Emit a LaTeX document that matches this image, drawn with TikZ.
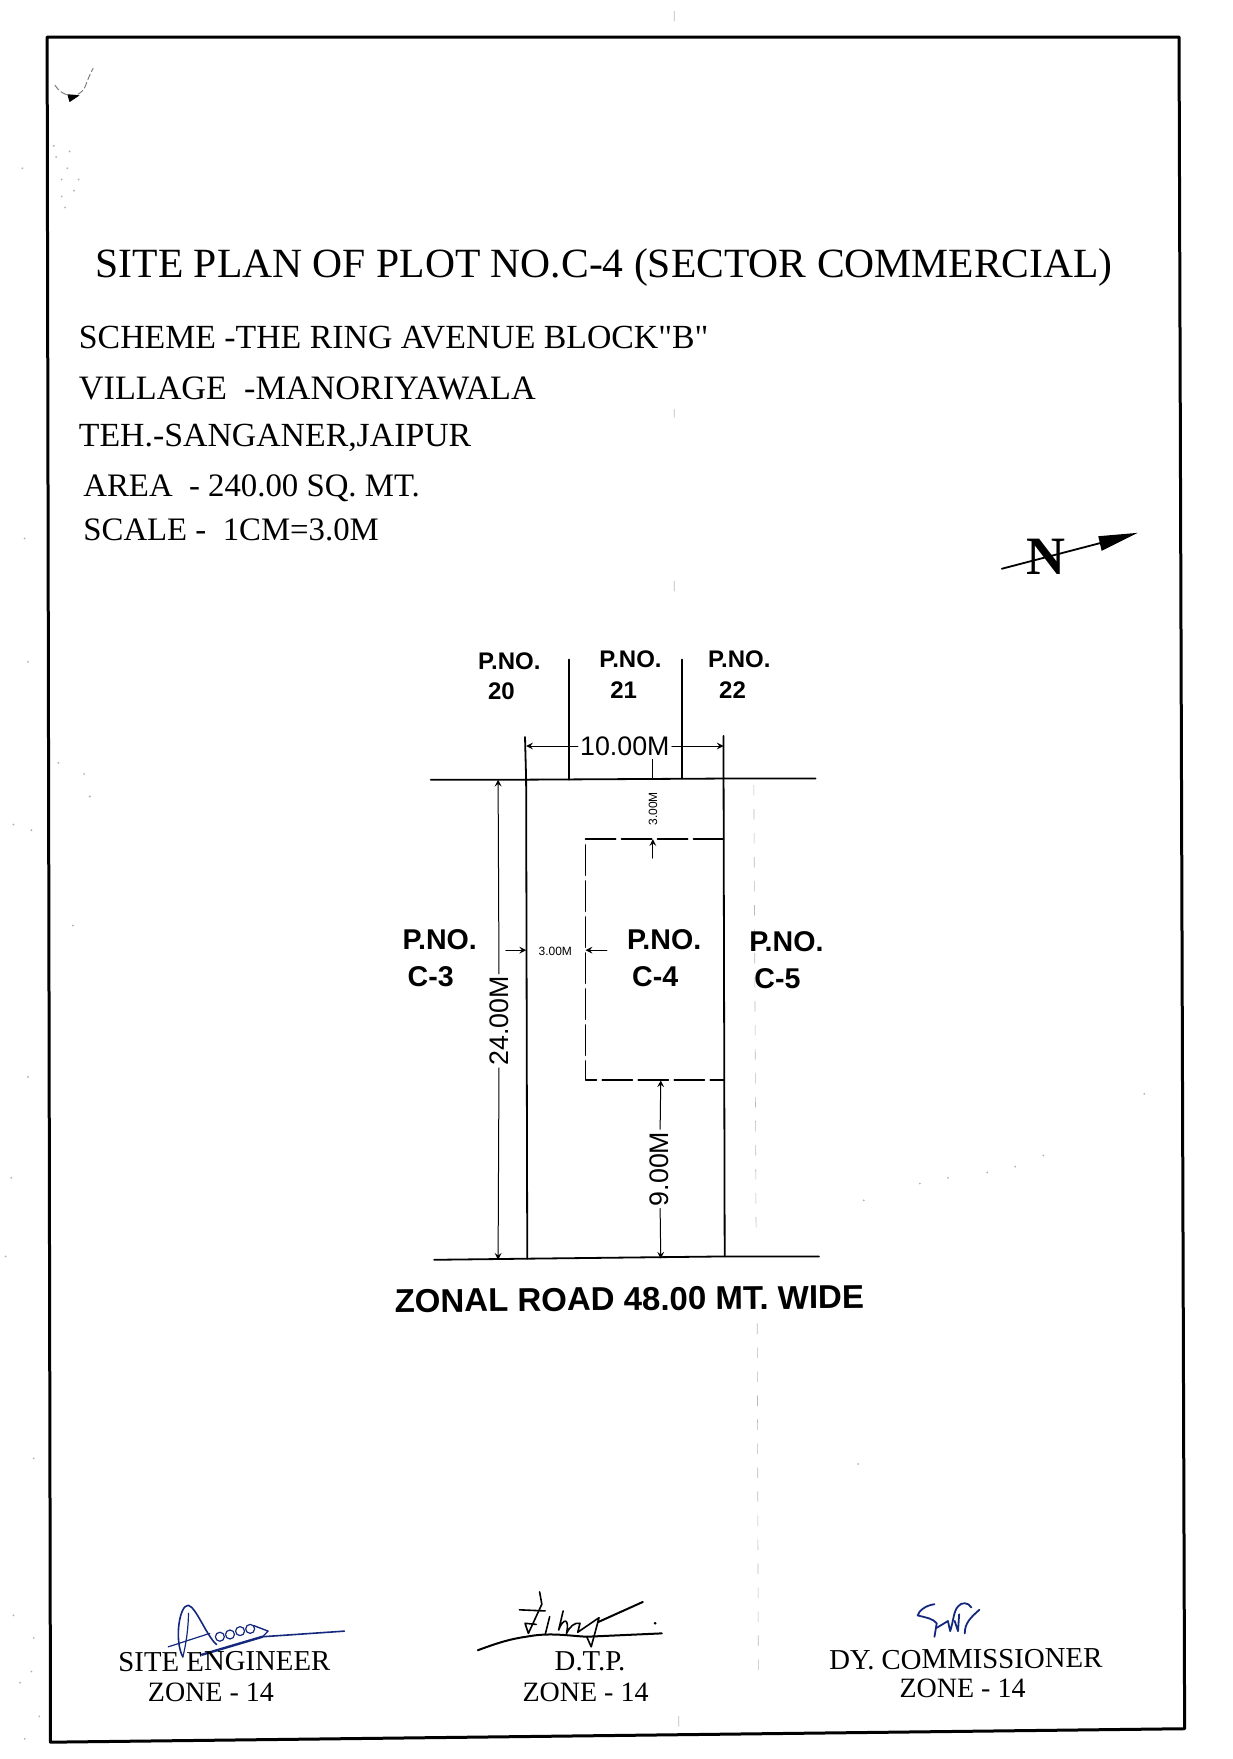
\documentclass[tikz,border=0pt]{standalone}
\usepackage{fontspec}
\setmainfont[Ligatures=TeXOff]{Liberation Serif}
\newfontfamily\plansans{Liberation Sans}
\definecolor{inkblue}{RGB}{20,40,125}
\tikzset{
	heading/.style={anchor=base west,inner sep=0pt,font=\fontsize{16.9}{18}\selectfont},
	smallheading/.style={anchor=base west,inner sep=0pt,font=\fontsize{16.4}{18}\selectfont},
	plotlabel/.style={inner sep=0pt,font=\plansans\bfseries\fontsize{12}{13}\selectfont},
	bigplotlabel/.style={inner sep=0pt,font=\plansans\bfseries\fontsize{14.3}{15}\selectfont},
	dimbig/.style={inner sep=1pt,font=\plansans\fontsize{13.4}{14}\selectfont},
	dimsmall/.style={inner sep=1pt,font=\plansans\fontsize{6}{7}\selectfont},
	signtext/.style={inner sep=0pt,font=\fontsize{14.4}{15}\selectfont},
	zonetext/.style={inner sep=0pt,font=\fontsize{14}{15}\selectfont},
	plotline/.style={line width=.9pt},
	dimline/.style={line width=.5pt},
	scanmark/.style={gray!55,line width=.3pt,dash pattern=on 5pt off 7pt},
}
\begin{document}
\begin{tikzpicture}[x=.561pt,y=-.561pt,line join=round,line cap=round,>=stealth]
	\useasboundingbox (0,0) rectangle (1099,1568);
	\fill[white] (0,0) rectangle (1099,1568);
	% fold marks of the scan
	\draw[scanmark] (601,10)--(601,24) (601,365)--(601,372) (601,518)--(601,530) (672,700)--(674,1100) (675,1180)--(676,1490) (605,1530)--(605,1545);
	\foreach \x/\y in{20/150,48/130,60/150,55/175,70/160,22/480,25/590,12/735,28/740,65/825,25/960,10/1050,5/1120,30/1300,12/1440,28/1490,22/1550,80/710,820/1055,845/1050,880/1045,905/1040,930/1030,770/1070,1020/975,765/1305,50/140,62/135,55/160,66/170,58/185,52/680,75/690,30/1460,18/1500,35/1530}
		\fill[gray!60] (\x,\y)circle(.9);
	% frame
	\draw[line width=1.5pt] (42,33)--(1051,33)--(1056,1541)--(45,1553)--cycle;
	\draw[gray,line width=.5pt,dash pattern=on 3pt off 1.5pt] (49,76) .. controls (55,86) and (70,90) .. (76,77) .. controls (78,72) and (80,66) .. (83,61);
	\fill (62,91)--(71,85)--(60,84)--cycle;
	% heading
	\node[heading,font=\fontsize{20.8}{22}\selectfont] (title) at (85,247) {SITE PLAN OF PLOT NO.C-4 (SECTOR COMMERCIAL)};
	\node[heading] (scheme) at (70,311) {SCHEME -THE RING AVENUE BLOCK"B"};
	\node[heading,font=\fontsize{17.1}{18}\selectfont] (village) at (70,356) {VILLAGE\ \ -MANORIYAWALA};
	\node[heading] (teh) at (70,398) {TEH.-SANGANER,JAIPUR};
	\node[smallheading] (area) at (74,443) {AREA\ \ - 240.00 SQ. MT.};
	\node[smallheading] (scale) at (74,482) {SCALE -\ \ 1CM=3.0M};
	% north
	\node[inner sep=0pt,font=\bfseries\fontsize{27}{28}\selectfont] (north) at (932,496) {N};
	\draw[line width=.9pt] (893,507)--(985,483);
	\fill (1014,475)--(979,478)--(982,491)--cycle;
	% plot
	\coordinate (ptl) at (469,695);
	\coordinate (ptr) at (645,694);
	\coordinate (pbl) at (470,1122);
	\coordinate (pbr) at (646,1120);
	\draw[plotline] (384,695)--(ptl)--(ptr)--(727,694);
	\draw[plotline] (387,1123)--(pbl)--(pbr)--(730,1120);
	\draw[plotline] (468,657)--(ptl)--(pbl);
	\draw[plotline] (645,656)--(ptr)--(pbr);
	\draw[plotline] (507,588)--(507,695);
	\draw[plotline] (608,588)--(608,694);
	\draw[plotline,dash pattern=on 15pt off 3pt] (645,748)--(522,748)--(522,963)--(645,963);
	% dimensions
	\node[dimbig] (dten) at (557,665) {10.00M};
	\draw[dimline,->] (dten)--(469,665);
	\draw[dimline,->] (dten)--(645,665);
	\node[dimbig,rotate=90] (dtwentyfour) at (445,910) {24.00M};
	\draw[dimline,->] (dtwentyfour)--(444,695);
	\draw[dimline,->] (dtwentyfour)--(444,1123);
	\node[dimbig,rotate=90] (dnine) at (588,1042) {9.00M};
	\draw[dimline,->] (dnine)--(589,963);
	\draw[dimline,->] (dnine)--(589,1122);
	\node[dimsmall,rotate=90] (dfront) at (582,721) {3.00M};
	\draw[dimline] (582,677)--(582,694);
	\draw[dimline,->] (582,765)--(582,748);
	\node[dimsmall] (dside) at (495,848) {3.00M};
	\draw[dimline,->] (451,847)--(469,847);
	\draw[dimline,->] (541,847)--(522,847);
	% plot numbers
	\foreach \x/\y/\n/\a/\b in{454/589/ptwenty/447/20,562/588/ptwentyone/556/21,659/588/ptwentytwo/653/22}{
		\node[plotlabel] (\n) at (\x,\y) {P.NO.};
		\node[plotlabel] (\n b) at (\a,\y+27) {\b};
	}
	\foreach \x/\y/\n/\a/\b in{392/838/pcthree/384/C-3,592/838/pcfour/584/C-4,701/839/pcfive/693/C-5}{
		\node[bigplotlabel] (\n) at (\x,\y) {P.NO.};
		\node[bigplotlabel] (\n b) at (\a,\y+33) {\b};
	}
	\node[plotlabel,font=\plansans\bfseries\fontsize{16.5}{18}\selectfont,rotate=.5] (road) at (561,1158) {ZONAL ROAD 48.00 MT. WIDE};
	% signatures
	\draw[inkblue,line width=.8pt] (163,1477) .. controls (155,1462) and (160,1430) .. (168,1431) .. controls (175,1433) and (184,1458) .. (193,1466);
	\draw[inkblue,line width=.6pt] (168,1438) .. controls (168,1450) and (166,1465) .. (163,1477);
	\draw[inkblue,line width=.6pt] (150,1468)--(187,1456);
	\foreach \x/\y in{196/1459,205/1457,214/1454,223/1452}
		\draw[inkblue,line width=.6pt] (\x,\y)circle(4);
	\draw[inkblue,line width=.7pt] (226,1449)--(239,1454)--(234,1459);
	\draw[inkblue,line width=1.2pt] (180,1475)--(234,1459);
	\draw[inkblue,line width=.8pt] (234,1459)--(307,1454);
	\draw[line width=1pt] (426,1471) .. controls (445,1464) and (455,1461) .. (469,1459) .. controls (490,1455) and (505,1458) .. (523,1459)--(590,1456);
	\draw[line width=.8pt] (481,1419)--(483,1430)--(471,1456)--(468,1447)--(478,1448);
	\draw[line width=.8pt] (463,1435)--(486,1436);
	\draw[line width=.8pt] (490,1441)--(486,1457) (502,1436)--(498,1453) .. controls (502,1442) and (508,1442) .. (505,1456) .. controls (508,1450) and (512,1446) .. (517,1447)--(515,1455)--(534,1442)--(527,1468)--(523,1459);
	\draw[line width=1pt] (533,1446)--(573,1428);
	\fill (584,1447)circle(1.3);
	\draw[inkblue,line width=.9pt] (833,1430) .. controls (825,1431) and (819,1436) .. (818,1440) .. controls (826,1442) and (832,1443) .. (835,1447)--(833,1459);
	\draw[inkblue,line width=.9pt] (835,1451)--(845,1445)--(847,1454) .. controls (850,1445) and (850,1436) .. (854,1432) .. controls (857,1428) and (863,1428) .. (866,1433);
	\draw[inkblue,line width=.9pt] (851,1445)--(854,1454) (855,1439)--(854,1454);
	\draw[inkblue,line width=.9pt] (873,1435) .. controls (865,1442) and (860,1447) .. (860,1456);
	% signing authorities
	\node[signtext,rotate=.3] (engineer) at (200,1481) {SITE ENGINEER};
	\node[zonetext] (zoneeng) at (188,1509) {ZONE - 14};
	\node[signtext] (dtp) at (526,1481) {D.T.P.};
	\node[zonetext] (zonedtp) at (522,1509) {ZONE - 14};
	\node[signtext,rotate=.5] (commissioner) at (861,1479) {DY. COMMISSIONER};
	\node[zonetext] (zonecom) at (858,1505) {ZONE - 14};
\end{tikzpicture}
\end{document}
